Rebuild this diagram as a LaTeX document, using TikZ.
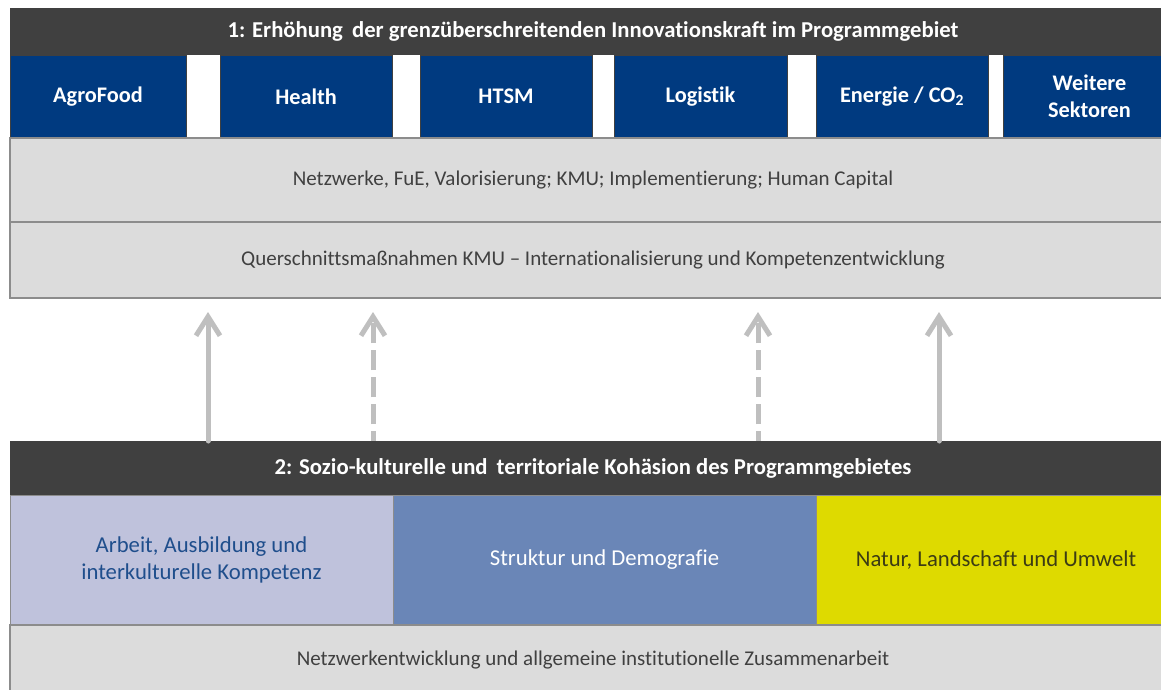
\documentclass[tikz,border=0pt]{standalone}
\usepackage{fontspec}
\setmainfont{Carlito}[Ligatures=NoCommon]
\usetikzlibrary{arrows.meta}
\definecolor{hdr}{HTML}{404040}
\definecolor{navy}{HTML}{003A80}
\definecolor{lgray}{HTML}{DCDCDC}
\definecolor{bord}{HTML}{8C8C8C}
\definecolor{lilac}{HTML}{BFC2DC}
\definecolor{steel}{HTML}{6A86B7}
\definecolor{lemon}{HTML}{DEDA00}
\definecolor{arr}{HTML}{BFBFBF}
\definecolor{txtblue}{HTML}{1F4E8C}
\definecolor{txtolive}{HTML}{3C3C14}
\definecolor{txtgray}{HTML}{404040}
\begin{document}
\begin{tikzpicture}[x=1pt,y=-1pt,
  cell/.style={anchor=north west, inner sep=0pt, outer sep=0pt, align=center},
  hdrbox/.style={cell, fill=hdr, text=white, font=\fontsize{22.7}{27}\selectfont\bfseries},
  sector/.style={cell, fill=navy, draw=hdr, line width=0.8pt, text=white, font=\fontsize{22.3}{27}\selectfont\bfseries},
  graybox/.style={cell, fill=lgray, draw=bord, line width=1.6pt, text=txtgray, font=\fontsize{21}{25}\selectfont},
  colbox/.style={cell, draw=bord, line width=1pt, font=\fontsize{22.7}{27}\selectfont},
  arrowbase/.style={draw=arr, line width=5pt, line cap=round, line join=round, -{Straight Barb[length=19pt,width=24pt]}},
  solidarrow/.style={arrowbase},
  dasharrow/.style={arrowbase, line cap=butt, dash pattern=on 20pt off 7pt, dash phase=10pt}]
\useasboundingbox (0,0) rectangle (1161,689);
\clip (0,0) rectangle (1161,689);
\fill[white] (0,0) rectangle (1161,689);

% top block
\node[hdrbox, minimum width=1166pt, minimum height=47pt] (h1) at (10,8)
  {1: Erhöhung\hspace{0.4em}der grenzüberschreitenden Innovationskraft im Programmgebiet};
\node[sector, minimum width=176pt, minimum height=83pt] (agro) at (10,55) {AgroFood};
\node[sector, minimum width=172pt, minimum height=83pt] (health) at (220,55) {Health};
\node[sector, minimum width=172pt, minimum height=83pt] (htsm) at (420,55) {HTSM};
\node[sector, minimum width=173pt, minimum height=83pt] (logi) at (614,55) {Logistik};
\node[sector, minimum width=172pt, minimum height=83pt] (energ) at (816,55) {Energie / CO\textsubscript{2}};
\node[sector, minimum width=173pt, minimum height=83pt] (weit) at (1003,55) {Weitere\\Sektoren};
\node[graybox, minimum width=1166pt, minimum height=84pt] (g1) at (10,138)
  {Netzwerke, FuE, Valorisierung; KMU; Implementierung; Human Capital};
\node[graybox, minimum width=1166pt, minimum height=76pt] (g2) at (10,222)
  {Querschnittsmaßnahmen KMU – Internationalisierung und Kompetenzentwicklung};

% bottom block
\node[hdrbox, minimum width=1166pt, minimum height=54pt] (h2) at (10,441)
  {2: Sozio-kulturelle und\hspace{0.4em}territoriale Kohäsion des Programmgebietes};
\node[colbox, fill=lilac, text=txtblue, minimum width=383pt, minimum height=130pt] (c1) at (10,495)
  {Arbeit, Ausbildung und\\interkulturelle Kompetenz};
\node[colbox, fill=steel, text=white, minimum width=423pt, minimum height=130pt] (c2) at (393,495)
  {Struktur und Demografie};
\node[colbox, fill=lemon, text=txtolive, minimum width=360pt, minimum height=130pt] (c3) at (816,495)
  {Natur, Landschaft und Umwelt};
\node[graybox, minimum width=1166pt, minimum height=70pt] (g3) at (10,625)
  {Netzwerkentwicklung und allgemeine institutionelle Zusammenarbeit};

% arrows
\coordinate (a1s) at (208,441); \coordinate (a1t) at (208,312);
\coordinate (a2s) at (373,441); \coordinate (a2t) at (373,312);
\coordinate (a3s) at (758,441); \coordinate (a3t) at (758,312);
\coordinate (a4s) at (939,441); \coordinate (a4t) at (939,312);
\draw[solidarrow] (a1s) -- (a1t);
\draw[dasharrow] (a2s) -- (a2t);
\draw[dasharrow] (a3s) -- (a3t);
\draw[solidarrow] (a4s) -- (a4t);
\end{tikzpicture}
\end{document}
